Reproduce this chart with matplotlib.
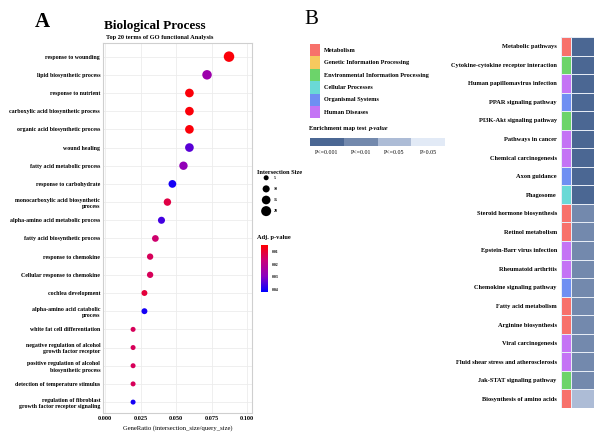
import matplotlib
matplotlib.use("Agg")
import matplotlib.pyplot as plt
from matplotlib.colors import LinearSegmentedColormap, Normalize

plt.rcParams['font.family'] = ['Liberation Serif', 'DejaVu Serif']
plt.rcParams['font.weight'] = 'bold'

# ---- panel A data (GO biological process) ----
go_terms = [
    "response to wounding", "lipid biosynthetic process", "response to nutrient",
    "carboxylic acid biosynthetic process", "organic acid biosynthetic process",
    "wound healing", "fatty acid metabolic process", "response to carbohydrate",
    "monocarboxylic acid biosynthetic\nprocess", "alpha-amino acid metabolic process",
    "fatty acid biosynthetic process", "response to chemokine",
    "Cellular response to chemokine", "cochlea development",
    "alpha-amino acid catabolic\nprocess", "white fat cell differentiation",
    "negative regulation of alcohol\ngrowth factor receptor",
    "positive regulation of alcohol\nbiosynthetic process",
    "detection of temperature stimulus",
    "regulation of fibroblast\ngrowth factor receptor signaling",
]
gene_ratio = [0.0873, 0.0718, 0.0594, 0.0594, 0.0594, 0.0594, 0.0552, 0.0474, 0.0439, 0.0397,
              0.0354, 0.0317, 0.0317, 0.0277, 0.0277, 0.0197, 0.0197, 0.0197, 0.0197, 0.0197]
intersection_size = [22, 18, 15, 15, 15, 15, 14, 12, 11, 10, 9, 8, 8, 7, 7, 5, 5, 5, 5, 5]
adj_pvalue = [0.006, 0.026, 0.006, 0.006, 0.006, 0.034, 0.028, 0.040, 0.012, 0.036,
              0.016, 0.014, 0.014, 0.011, 0.040, 0.014, 0.014, 0.014, 0.014, 0.040]
size_legend = [5, 10, 15, 20]
xticks_a = [0.000, 0.025, 0.050, 0.075, 0.100]

# ---- panel B data (KEGG) ----
categories = ["Metabolism", "Genetic Information Processing", "Environmental Information Processing",
              "Cellular Processes", "Organismal Systems", "Human Diseases"]
category_colors = ["#f7716b", "#f6c95e", "#6cd46a", "#6ad9d6", "#6f8ff2", "#c474f5"]
p_levels = ["P<=0.001", "P<=0.01", "P<=0.05", "P>0.05"]
p_colors = ["#4b6793", "#7389ad", "#adbcd6", "#e2eaf6"]
pathways = [
    "Metabolic pathways", "Cytokine-cytokine receptor interaction", "Human papillomavirus infection",
    "PPAR signaling pathway", "PI3K-Akt signaling pathway", "Pathways in cancer",
    "Chemical carcinogenesis", "Axon guidance", "Phagosome", "Steroid hormone biosynthesis",
    "Retinol metabolism", "Epstein-Barr virus infection", "Rheumatoid arthritis",
    "Chemokine signaling pathway", "Fatty acid metabolism", "Arginine biosynthesis",
    "Viral carcinogenesis", "Fluid shear stress and atherosclerosis", "Jak-STAT signaling pathway",
    "Biosynthesis of amino acids",
]
pathway_cat = [0, 2, 5, 4, 2, 5, 5, 4, 3, 0, 0, 5, 5, 4, 0, 0, 5, 5, 2, 0]
pathway_p = [0, 0, 0, 0, 0, 0, 0, 0, 0, 1, 1, 1, 1, 1, 1, 1, 1, 1, 1, 2]

W, H = 607, 445
fig = plt.figure(figsize=(W / 100, H / 100), dpi=100)


def box(x0, y0, x1, y1):
    return [x0 / W, 1 - y1 / H, (x1 - x0) / W, (y1 - y0) / H]


cmap = LinearSegmentedColormap.from_list("pv", ["#ff0000", "#c8007a", "#8a00c0", "#0000ff"])
norm = Normalize(vmin=0.005, vmax=0.042)

# ---- panel A ----
ax = fig.add_axes(box(103, 43, 252, 413))
ypos = list(range(1, len(go_terms) + 1))
sc = ax.scatter(gene_ratio, ypos, s=[v * 2.6 for v in intersection_size], c=adj_pvalue,
                cmap=cmap, norm=norm, zorder=3, linewidths=0)
ax.set_ylim(20.6, 0.25)
ax.set_xlim(-0.0015, 0.1035)
ax.set_yticks(ypos)
ax.set_yticklabels(go_terms, fontsize=4.2, linespacing=1.35)
ax.set_xticks(xticks_a)
ax.set_xticklabels(["%.3f" % t for t in xticks_a], fontsize=4.5)
ax.tick_params(length=0, pad=2)
ax.grid(True, color="#ececec", linewidth=0.6)
ax.set_axisbelow(True)
for s in ax.spines.values():
    s.set_color("#cfcfcf")
    s.set_linewidth(0.8)
ax.set_xlabel("GeneRatio (intersection_size/query_size)", fontsize=4.8, labelpad=3)

fig.text(35 / W, 1 - 22 / H, "A", fontsize=15, fontweight="bold", va="center")
fig.text(104 / W, 1 - 26 / H, "Biological Process", fontsize=9.5, fontweight="bold", va="center")
fig.text(106 / W, 1 - 38 / H, "Top 20 terms of GO functional Analysis", fontsize=4.6,
         fontweight="bold", va="center")

# size legend
axs = fig.add_axes(box(256, 170, 300, 220))
axs.scatter([0] * len(size_legend), size_legend, s=[v * 2.6 for v in size_legend], c="black",
            linewidths=0)
for v in size_legend:
    axs.text(0.9, v, str(v), fontsize=3.0, va="center")
axs.set_xlim(-1.2, 4)
axs.set_ylim(24, 1.5)
axs.axis("off")
fig.text(257 / W, 1 - 172 / H, "Intersection Size", fontsize=4.6, fontweight="bold", va="center")

# p-value colorbar
fig.text(257 / W, 1 - 238 / H, "Adj. p-value", fontsize=4.6, fontweight="bold", va="center")
cax = fig.add_axes(box(261, 245, 268, 292))
cb = fig.colorbar(sc, cax=cax, ticks=[0.01, 0.02, 0.03, 0.04])
cb.ax.invert_yaxis()
cb.ax.set_yticklabels(["0.01", "0.02", "0.03", "0.04"], fontsize=2.8)
cb.ax.tick_params(length=1.5, width=0.4, color="white", pad=1)
cb.outline.set_visible(False)

# ---- panel B ----
fig.text(304 / W, 1 - 19 / H, "B", fontsize=15, fontweight="normal", va="center")

axl = fig.add_axes(box(308, 43, 452, 160))
axl.set_xlim(0, 144)
axl.set_ylim(117, 0)
axl.axis("off")
cat_y = [1 + 12.4 * i + 6.2 for i in range(len(categories))]
axl.barh(cat_y, 10, left=2, height=12.4, color=category_colors, linewidth=0)
for yy, name in zip(cat_y, categories):
    axl.text(16, yy, name, fontsize=4.5, fontweight="bold", va="center")
t1 = axl.text(1, 87, "Enrichment map test ", fontsize=4.6, fontweight="bold", va="baseline")
axl.annotate("p-value", xy=(1, 0), xycoords=t1, fontsize=4.6, fontweight="bold",
             style="italic", va="bottom")
blk_x = [2 + 33.8 * i for i in range(len(p_levels))]
axl.barh([99] * len(p_levels), 33.8, left=blk_x, height=8, color=p_colors, linewidth=0,
         align="center")
for bx, lab in zip(blk_x, p_levels):
    axl.text(bx + 16.9, 110, lab, fontsize=4.2, ha="center", va="center", fontweight="normal")

axh = fig.add_axes(box(561, 37, 594, 408))
rows = list(range(len(pathways)))
axh.barh(rows, 1, left=0, height=1, color=[category_colors[c] for c in pathway_cat],
         edgecolor="#e8eef7", linewidth=0.7)
axh.barh(rows, 2.2, left=1, height=1, color=[p_colors[p] for p in pathway_p],
         edgecolor="#e8eef7", linewidth=0.7)
axh.set_xlim(0, 3.2)
axh.set_ylim(len(pathways) - 0.5, -0.5)
axh.set_yticks(rows)
axh.set_yticklabels(pathways, fontsize=4.6)
axh.tick_params(length=0, pad=3)
axh.set_xticks([])
for s in axh.spines.values():
    s.set_visible(False)

fig.savefig("out.png", dpi=100)
